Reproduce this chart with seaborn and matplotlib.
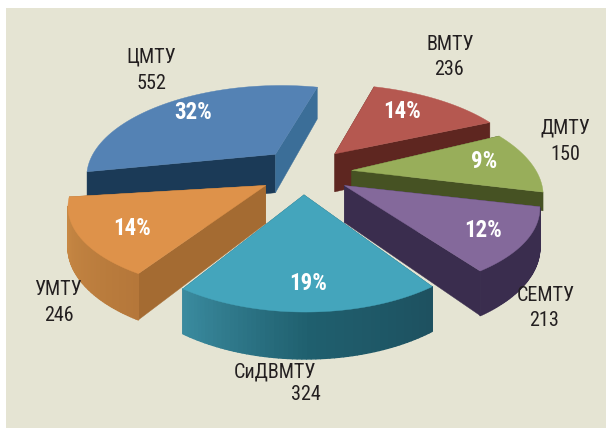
import numpy as np
import seaborn as sns
import matplotlib.pyplot as plt
from matplotlib.collections import PolyCollection

# districts and counts
names = ["ЦМТУ", "ВМТУ", "ДМТУ", "СЕМТУ", "СиДВМТУ", "УМТУ"]
values = [552, 236, 150, 213, 324, 246]

top_colors = ["#5482B4", "#B55850", "#98AE5A", "#84699B", "#44A5BC", "#DE924A"]
radial_colors = ["#1B3A57", "#5E2620", "#465223", "#3A2D4E", "#1F5F6E", "#A46B32"]
side_ramps = [["#1B3A57", "#1B3A57"], ["#5E2620", "#5E2620"], ["#465223", "#465223"],
              ["#3A2D4E", "#3A2D4E"], ["#1E5160", "#1F5F6E", "#3A8A9E"], ["#B5773A", "#C98A45"]]

# per slice look: pull-out, turn in degrees, extra spread, size, squash, depth, pixel nudge
explode = [0.25, 0.30, 0.27, 0.25, 0.21, 0.22]
turn = [0, -3, -5, -8, -6, -4]
spread = [0, 0, 8, -2, 0, 0]
size = [1.0, 1.04, 0.98, 0.97, 0.92, 0.98]
flat = [1.0, 1.0, 1.0, 0.92, 1.0, 0.9]
depth = [40, 40, 18, 36, 35, 37]
nudge = [(7, -5), (1, -1), (2, 0), (1, 0), (-1, 0), (0, -2)]

# label places in pixels
name_xy = [(151, 57), (450, 45), (565, 128), (546, 296), (275, 372), (58, 290)]
value_xy = [(151, 84), (449, 70), (565, 155), (544, 321), (306, 395), (59, 316)]
pct_xy = [(193, 113), (402, 112), (484, 162), (483, 231), (308, 284), (132, 229)]

START = 191.5
CX, CY, A, B, P = 300, 175, 190, 90.6, 0.225


def project(x, y, z=0.0):
    w = 1 + P * y
    return CX + A * x / w, CY - B * y / w + z / w


def quad(p, q, n, d):
    px, py = project(*p)
    qx, qy = project(*q)
    _, pb = project(p[0], p[1], d)
    _, qb = project(q[0], q[1], d)
    return [(px + n[0], py + n[1]), (qx + n[0], qy + n[1]), (qx + n[0], qb + n[1]), (px + n[0], pb + n[1])]


def facing(poly):
    # screen y runs down, so a front face winds one way only
    a = np.array(poly)
    return np.sum(a[:, 0] * np.roll(a[:, 1], -1) - np.roll(a[:, 0], -1) * a[:, 1]) < 0


sns.set_theme(style="white")
plt.rcParams["font.family"] = ["Roboto Condensed", "PT Sans Narrow", "Roboto", "DejaVu Sans"]

fig = plt.figure(figsize=(6.06, 4.28), dpi=100, facecolor="white")
ax = fig.add_axes([6 / 606, 0, 600 / 606, 420 / 428], facecolor="#E5E4D3")
ax.set_xlim(6, 606)
ax.set_ylim(428, 8)
ax.set_xticks([])
ax.set_yticks([])
sns.despine(ax=ax, left=True, bottom=True)

total = sum(values)
sweeps = [360 * v / total for v in values]
stops = START - np.cumsum([0] + sweeps)

for i in [0, 1, 2, 3, 5, 4]:
    t0 = stops[i] + turn[i] + spread[i] / 2
    t1 = stops[i + 1] + turn[i] - spread[i] / 2
    bis = np.radians((stops[i] + stops[i + 1]) / 2)
    ox, oy = explode[i] * np.cos(bis), explode[i] * np.sin(bis)
    th = np.radians(np.linspace(t0, t1, 60))
    rim = np.column_stack([ox + size[i] * np.cos(th), oy + size[i] * flat[i] * np.sin(th)])
    n = nudge[i]

    # flat cut faces
    for e, end in ((0, rim[0]), (1, rim[-1])):
        for poly in (quad((ox, oy), end, n, depth[i]), quad(end, (ox, oy), n, depth[i])):
            if facing(poly):
                c = "#3B6E98" if (i == 0 and e == 1) else radial_colors[i]
                ax.fill(*zip(*poly), color=c, lw=0.3)

    # outer rim, split up for the gradient
    polys = [quad(rim[k], rim[k + 1], n, depth[i]) for k in range(len(rim) - 1)]
    ramp = sns.blend_palette(side_ramps[i], len(polys))
    keep = [k for k, poly in enumerate(polys) if facing(poly)]
    ax.add_collection(PolyCollection([polys[k] for k in keep], facecolors=[ramp[k] for k in keep],
                                     edgecolors=[ramp[k] for k in keep], linewidths=1.0))

    tx, ty = project(np.r_[ox, rim[:, 0]], np.r_[oy, rim[:, 1]])
    ax.fill(tx + n[0], ty + n[1], color=top_colors[i], lw=0.3)

for i, name in enumerate(names):
    ax.text(*name_xy[i], name, ha="center", va="center", fontsize=14.5, color="#231F20")
    ax.text(*value_xy[i], str(values[i]), ha="center", va="center", fontsize=14.5, color="#231F20")
    ax.text(*pct_xy[i], f"{round(100 * values[i] / total)}%", ha="center", va="center",
            fontsize=16.5, fontweight="bold", color="white")

fig.savefig("out.png", dpi=100, facecolor="white")
